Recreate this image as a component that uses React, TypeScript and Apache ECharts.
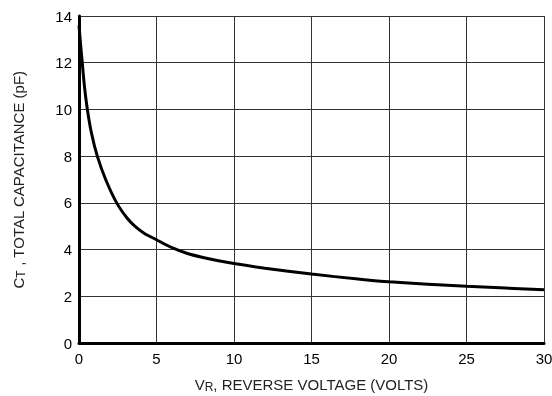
import React, { useEffect, useRef } from "react";
import * as echarts from "echarts";

const voltage = [0, 0.1, 0.21, 0.35, 0.54, 0.8, 1.18, 1.72, 2.43, 3.1, 3.6, 4.2, 5, 6, 7, 8, 9, 10, 12, 15, 18, 20, 25, 30];
const capacitance = [13.6, 12.8, 12, 11, 10, 9, 8, 7, 6, 5.35, 5.0, 4.7, 4.42, 4.08, 3.83, 3.66, 3.52, 3.4, 3.2, 2.95, 2.74, 2.62, 2.43, 2.28];
const xRange = { min: 0, max: 30, interval: 5 };
const yRange = { min: 0, max: 14, interval: 2 };

export default function App() {
  const ref = useRef<HTMLDivElement>(null);
  useEffect(() => {
    if (!ref.current) return;
    const chart = echarts.init(ref.current, undefined, { renderer: "svg" });
    const font = "'Liberation Sans', Arial, sans-serif";
    const titleRich = {
      m: { fontSize: 15, fontFamily: font, color: "#222" },
      s: { fontSize: 12, fontFamily: font, color: "#222", padding: [5, 0, 0, 0] },
    };
    chart.setOption({
      animation: false,
      grid: { left: 79, right: 8, top: 16, bottom: 53, containLabel: false, outerBoundsMode: "none" },
      xAxis: {
        type: "value",
        ...xRange,
        name: "{m|V}{s|R}{m|, REVERSE VOLTAGE (VOLTS)}",
        nameLocation: "middle",
        nameGap: 33,
        nameTextStyle: { rich: titleRich },
        axisLine: { show: true, lineStyle: { color: "#000", width: 3 } },
        axisTick: { show: false },
        axisLabel: { fontSize: 15, fontFamily: font, color: "#000", margin: 8 },
        splitLine: { show: true, lineStyle: { color: "#333", width: 1 } },
      },
      yAxis: {
        type: "value",
        ...yRange,
        name: "{m|C}{s|T}{m| , TOTAL CAPACITANCE (pF)}",
        nameLocation: "middle",
        nameRotate: 90,
        nameGap: 52,
        nameTextStyle: { rich: titleRich },
        axisLine: { show: true, lineStyle: { color: "#000", width: 3 } },
        axisTick: { show: false },
        axisLabel: { fontSize: 15, fontFamily: font, color: "#000", margin: 7 },
        splitLine: { show: true, lineStyle: { color: "#333", width: 1 } },
      },
      series: [
        {
          type: "line",
          data: voltage.map((v, i) => [v, capacitance[i]]),
          smooth: 0.3,
          showSymbol: false,
          lineStyle: { color: "#000", width: 3 },
        },
      ],
    });
    return () => chart.dispose();
  }, []);
  return <div ref={ref} style={{ position: "fixed", left: 0, top: 0, width: 552, height: 396 }} />;
}
